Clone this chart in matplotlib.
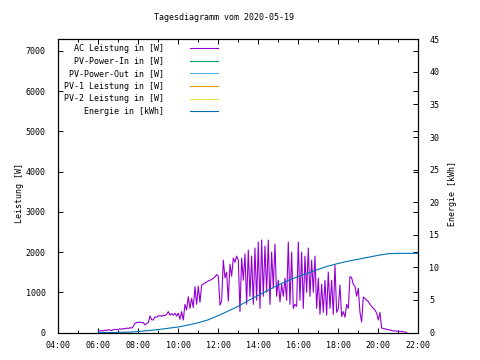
import numpy as np
import matplotlib
matplotlib.use("Agg")
import matplotlib.pyplot as plt
from matplotlib.ticker import FixedLocator, MultipleLocator

# ---------------- data ----------------
title = "Tagesdiagramm vom 2020-05-19"
x_ticks = [4, 6, 8, 10, 12, 14, 16, 18, 20, 22]
x_labels = ["04:00", "06:00", "08:00", "10:00", "12:00", "14:00", "16:00",
            "18:00", "20:00", "22:00"]

# AC power [W], 5-minute samples starting 06:00
ac_start = 6.0
ac_step_min = 5
ac_power = [
    30, 40, 50, 40, 60, 50, 70, 60, 50, 70, 80, 70,                       # 06
    80, 90, 80, 100, 90, 110, 100, 120, 110, 150, 230, 250,               # 07
    250, 260, 240, 250, 190, 220, 250, 410, 320, 310, 390, 380,           # 08
    410, 420, 400, 430, 420, 450, 520, 430, 470, 430, 480, 410,           # 09
    480, 330, 520, 310, 700, 560, 890, 600, 850, 620, 1140, 700,          # 10
    1150, 750, 1180, 1200, 1230, 1260, 1280, 1300, 1320, 1350, 1380, 1440,  # 11
    1400, 680, 780, 1800, 1360, 1500, 780, 1700, 1400, 1850, 1750, 1900,  # 12
    1800, 520, 1850, 1300, 1950, 700, 2050, 900, 1900, 700, 2100, 800,    # 13
    2250, 600, 2300, 900, 2150, 1000, 2300, 700, 2000, 1100, 2200, 900,   # 14
    1300, 760, 1200, 900, 1350, 800, 2250, 700, 2000, 600, 700, 650,      # 15
    2250, 800, 2000, 600, 1900, 1000, 2100, 900, 1800, 1000, 1900, 600,   # 16
    1350, 450, 1200, 500, 1300, 430, 1500, 600, 1300, 450, 1680, 500,     # 17
    600, 1180, 400, 520, 380, 700, 600, 1390, 1360, 1200, 1150, 900,      # 18
    1100, 500, 260, 880, 850, 800, 770, 700, 650, 600, 560, 480,          # 19
    310, 500, 110, 100, 90, 80, 70, 60, 50, 40, 40, 35,                   # 20
    30, 30, 25, 20, 10, 0,                                                # 21
]

# Energy [kWh], 30-minute samples starting 06:00
en_start = 6.0
en_step_min = 30
energy = [0.0, 0.0, 0.02, 0.05, 0.15, 0.3, 0.45, 0.65, 0.85, 1.15, 1.5, 1.95,
          2.6, 3.3, 4.05, 4.9, 5.7, 6.5, 7.3, 8.0, 8.6, 9.15, 9.7, 10.2,
          10.6, 10.95, 11.25, 11.55, 11.85, 12.1, 12.15, 12.15, 12.15]

pv_in = []
pv_out = []
pv1 = []
pv2 = []

labels = ["AC Leistung in [W]", "PV-Power-In in [W]", "PV-Power-Out in [W]",
          "PV-1 Leistung in [W]", "PV-2 Leistung in [W]", "Energie in [kWh]"]
colors = ["#9400d3", "#009e73", "#56b4e9", "#e69f00", "#f0e442", "#0072b2"]

# ---------------- plot ----------------
mono = "DejaVu Sans Mono"
fs = 6
plt.rcParams["font.family"] = mono
plt.rcParams["font.size"] = fs

fig = plt.figure(figsize=(4.8, 3.6), dpi=100)
ax = fig.add_axes([58.3 / 480, 27.5 / 360, 360 / 480, 293.2 / 360])
ax2 = ax.twinx()

t_ac = ac_start + np.arange(len(ac_power)) * ac_step_min / 60.0
t_en = en_start + np.arange(len(energy)) * en_step_min / 60.0

h0, = ax.plot(t_ac, ac_power, color=colors[0], lw=0.8)
h1, = ax.plot(pv_in, pv_in, color=colors[1], lw=0.8)
h2, = ax.plot(pv_out, pv_out, color=colors[2], lw=0.8)
h3, = ax.plot(pv1, pv1, color=colors[3], lw=0.8)
h4, = ax.plot(pv2, pv2, color=colors[4], lw=0.8)
h5, = ax2.plot(t_en, energy, color=colors[5], lw=0.8)

ax.set_xlim(4, 22)
ax.set_ylim(0, 7290)
ax2.set_ylim(0, 45)

ax.xaxis.set_major_locator(FixedLocator(x_ticks))
ax.set_xticklabels(x_labels)
ax.xaxis.set_minor_locator(MultipleLocator(1))
ax.yaxis.set_major_locator(MultipleLocator(1000))
ax2.yaxis.set_major_locator(MultipleLocator(5))

ax.tick_params(axis="x", which="both", direction="in", top=True, bottom=True,
               pad=6)
ax.tick_params(axis="x", which="major", length=3.5, width=0.7)
ax.tick_params(axis="x", which="minor", length=2.5, width=0.7)
ax.tick_params(axis="y", direction="in", left=True, right=True, length=3.5,
               width=0.7, pad=9)
ax2.tick_params(axis="y", direction="in", right=True, length=3.5, width=0.7,
                pad=8)
for a in (ax, ax2):
    for s in a.spines.values():
        s.set_linewidth(0.8)

fig.text(223.6 / 480, 1 - 17 / 360, title, ha="center", va="center",
         fontsize=fs)
fig.text(20 / 480, 1 - 193 / 360, "Leistung [W]", rotation=90,
         ha="center", va="center", fontsize=fs)
fig.text(452.7 / 480, 1 - 194 / 360, "Energie [kWh]", rotation=90,
         ha="center", va="center", fontsize=fs)

width = max(len(l) for l in labels)
padded = [l.rjust(width) for l in labels]
leg = ax2.legend([h0, h1, h2, h3, h4, h5], padded, loc="upper left",
                 bbox_to_anchor=(5.7 / 360, 1 - 4.5 / 293.2),
                 frameon=False, markerfirst=False, borderpad=0,
                 borderaxespad=0, handlelength=3.4, handletextpad=3.1,
                 labelspacing=0.44, prop={"family": mono, "size": fs})

fig.savefig("out.png", dpi=100)
